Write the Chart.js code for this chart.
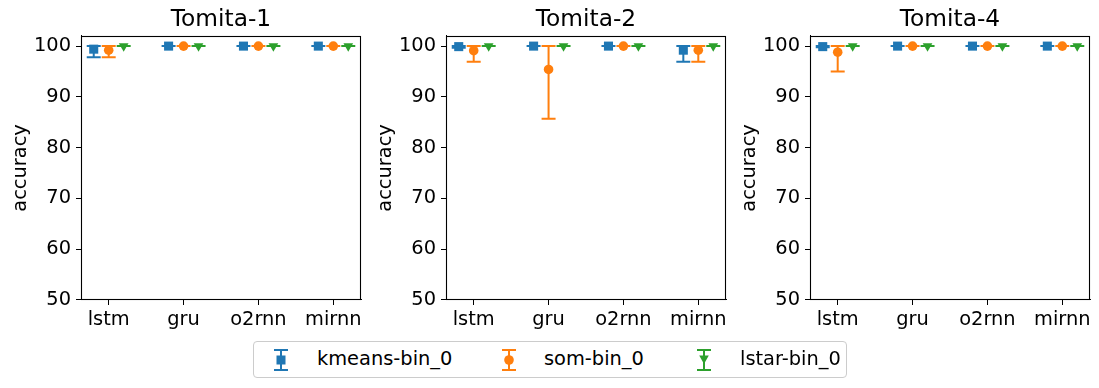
<!DOCTYPE html>
<html>
<head>
<meta charset="utf-8">
<script src="https://cdn.jsdelivr.net/npm/chart.js@4.4.1/dist/chart.umd.min.js"></script>
<style>
  html, body { margin: 0; padding: 0; background: #fff; }
  #wrap { position: relative; width: 1099px; height: 388px; overflow: hidden; font-family: "DejaVu Sans", sans-serif; background: #fff; }
  .panel { position: absolute; top: 0; width: 442px; height: 340px; }
  #legend { position: absolute; left: 253px; top: 341px; width: 592px; height: 35px; border: 1px solid #cccccc; border-radius: 4px; background: #fff; }
  .lg-icon { position: absolute; }
  .lg-text { position: absolute; font-size: 19.4px; line-height: 22px; color: #000; white-space: nowrap; }
</style>
</head>
<body>
<div id="wrap">
  <div class="panel" style="left:0px"><canvas id="c0" width="442" height="340"></canvas></div>
  <div class="panel" style="left:365px"><canvas id="c1" width="442" height="340"></canvas></div>
  <div class="panel" style="left:729px"><canvas id="c2" width="442" height="340"></canvas></div>
  <div id="legend"></div>
</div>
<script>
// ---- data ----
const categories = ['lstm', 'gru', 'o2rnn', 'mirnn'];
const panelTitles = ['Tomita-1', 'Tomita-2', 'Tomita-4'];
const seriesNames = ['kmeans-bin_0', 'som-bin_0', 'lstar-bin_0'];
const seriesColors = ['#1f77b4', '#ff7f0e', '#2ca02c'];
const seriesMarkers = ['rect', 'circle', 'triangle'];
const seriesOffsets = [-0.2, 0, 0.2];
const yTicks = [50, 60, 70, 80, 90, 100];

// Tomita-1
const t1KmeansMean = [99.4, 100, 100, 100];
const t1KmeansLow  = [97.8, 100, 100, 100];
const t1KmeansHigh = [100, 100, 100, 100];
const t1SomMean    = [99.2, 100, 100, 100];
const t1SomLow     = [97.8, 100, 100, 100];
const t1SomHigh    = [100, 100, 100, 100];
const t1LstarMean  = [100, 100, 100, 100];
const t1LstarLow   = [100, 100, 100, 100];
const t1LstarHigh  = [100, 100, 100, 100];

// Tomita-2
const t2KmeansMean = [99.9, 100, 100, 99.2];
const t2KmeansLow  = [99.7, 100, 100, 96.9];
const t2KmeansHigh = [100, 100, 100, 100];
const t2SomMean    = [99.1, 95.4, 100, 99.2];
const t2SomLow     = [96.9, 85.7, 100, 96.9];
const t2SomHigh    = [100, 100, 100, 100];
const t2LstarMean  = [100, 100, 100, 100];
const t2LstarLow   = [100, 100, 100, 100];
const t2LstarHigh  = [100, 100, 100, 100];

// Tomita-4
const t4KmeansMean = [99.9, 100, 100, 100];
const t4KmeansLow  = [99.8, 100, 100, 100];
const t4KmeansHigh = [100, 100, 100, 100];
const t4SomMean    = [98.8, 100, 100, 100];
const t4SomLow     = [95.0, 100, 100, 100];
const t4SomHigh    = [100, 100, 100, 100];
const t4LstarMean  = [100, 100, 100, 100];
const t4LstarLow   = [100, 100, 100, 100];
const t4LstarHigh  = [100, 100, 100, 100];

const panelData = [
  [[t1KmeansMean, t1KmeansLow, t1KmeansHigh], [t1SomMean, t1SomLow, t1SomHigh], [t1LstarMean, t1LstarLow, t1LstarHigh]],
  [[t2KmeansMean, t2KmeansLow, t2KmeansHigh], [t2SomMean, t2SomLow, t2SomHigh], [t2LstarMean, t2LstarLow, t2LstarHigh]],
  [[t4KmeansMean, t4KmeansLow, t4KmeansHigh], [t4SomMean, t4SomLow, t4SomHigh], [t4LstarMean, t4LstarLow, t4LstarHigh]]
];

// ---- plugins ----
const errorBarPlugin = {
  id: 'errorBars',
  beforeDatasetsDraw(chart) {
    const ctx = chart.ctx;
    const xs = chart.scales.x, ys = chart.scales.y;
    const area = chart.chartArea;
    ctx.save();
    ctx.beginPath();
    ctx.rect(area.left, area.top, area.right - area.left, area.bottom - area.top);
    ctx.clip();
    const cap = 7;
    chart.data.datasets.forEach(ds => {
      ctx.strokeStyle = ds.borderColor;
      ctx.lineWidth = 2;
      ds.data.forEach(p => {
        const px = xs.getPixelForValue(p.x);
        const pl = ys.getPixelForValue(p.lo);
        const ph = ys.getPixelForValue(p.hi);
        ctx.beginPath();
        ctx.moveTo(px, pl); ctx.lineTo(px, ph);
        ctx.moveTo(px - cap, pl); ctx.lineTo(px + cap, pl);
        ctx.moveTo(px - cap, ph); ctx.lineTo(px + cap, ph);
        ctx.stroke();
      });
    });
    ctx.restore();
  }
};

const framePlugin = {
  id: 'frame',
  afterDraw(chart) {
    const a = chart.chartArea, ctx = chart.ctx;
    ctx.save();
    ctx.strokeStyle = '#000';
    ctx.lineWidth = 1.1;
    ctx.strokeRect(Math.round(a.left) + 0.5, Math.round(a.top) + 0.5, Math.round(a.right - a.left) - 1, Math.round(a.bottom - a.top) - 1);
    ctx.restore();
  }
};

const FONT = '"DejaVu Sans", sans-serif';
const TICK_SIZE = 19.4;
const TITLE_SIZE = 23.3;

function buildChart(canvasId, title, data) {
  const datasets = data.map((s, si) => ({
    label: seriesNames[si],
    data: categories.map((c, ci) => ({ x: ci + seriesOffsets[si], y: s[0][ci], lo: s[1][ci], hi: s[2][ci] })),
    borderColor: seriesColors[si],
    backgroundColor: seriesColors[si],
    pointStyle: seriesMarkers[si],
    pointRotation: si === 2 ? 180 : 0,
    pointRadius: si === 0 ? 6.4 : (si === 1 ? 4.8 : 5.6),
    pointBorderWidth: 0,
    showLine: false,
    xAxisID: 'x',
    yAxisID: 'y',
    order: 3 - si
  }));
  return new Chart(document.getElementById(canvasId), {
    type: 'scatter',
    data: { datasets },
    options: {
      responsive: false,
      animation: false,
      devicePixelRatio: 1,
      layout: { padding: 0 },
      plugins: {
        legend: { display: false },
        tooltip: { enabled: false },
        title: {
          display: true, text: title, color: '#000',
          font: { family: FONT, size: TITLE_SIZE, weight: 'normal' },
          padding: { top: 6, bottom: 2 }
        }
      },
      scales: {
        x: {
          type: 'linear', min: -0.37, max: 3.37,
          afterFit(scale) { scale.height = 40; },
          afterBuildTicks(scale) { scale.ticks = categories.map((c, i) => ({ value: i })); },
          ticks: {
            color: '#000', font: { family: FONT, size: TICK_SIZE }, padding: 3,
            autoSkip: false, maxRotation: 0,
            callback: (v) => categories[Math.round(v)]
          },
          grid: { display: true, drawOnChartArea: false, drawTicks: true, tickLength: 5, color: '#000', lineWidth: 1 },
          border: { display: true, color: '#000', width: 1 }
        },
        y: {
          type: 'linear', position: 'left', min: 50, max: 102,
          afterFit(scale) { scale.width = 81; },
          afterBuildTicks(scale) { scale.ticks = yTicks.map(v => ({ value: v })); },
          ticks: { color: '#000', font: { family: FONT, size: TICK_SIZE }, padding: 5 },
          grid: { display: true, drawOnChartArea: false, drawTicks: true, tickLength: 5, color: '#000', lineWidth: 1 },
          border: { display: true, color: '#000', width: 1 },
          title: { display: true, text: 'accuracy', color: '#000', font: { family: FONT, size: TICK_SIZE }, padding: { top: 9, bottom: 0 } }
        },
        yRightSpacer: {
          type: 'linear', position: 'right', min: 50, max: 102,
          afterFit(scale) { scale.width = 81; },
          ticks: { display: false },
          grid: { display: false, drawTicks: false },
          border: { display: false },
          title: { display: false }
        }
      }
    },
    plugins: [errorBarPlugin, framePlugin]
  });
}

panelTitles.forEach((t, i) => buildChart('c' + i, t, panelData[i]));

// ---- legend (HTML text + SVG icons) ----
const legendIconX = [27, 255, 450];
const legendTextX = [63, 290, 486];
const legend = document.getElementById('legend');
const svgNS = 'http://www.w3.org/2000/svg';
seriesNames.forEach((name, i) => {
  const svg = document.createElementNS(svgNS, 'svg');
  svg.setAttribute('width', '18'); svg.setAttribute('height', '24');
  svg.setAttribute('class', 'lg-icon');
  svg.style.left = (legendIconX[i] - 9) + 'px';
  svg.style.top = '6px';
  const col = seriesColors[i];
  const path = document.createElementNS(svgNS, 'path');
  path.setAttribute('d', 'M9 2 L9 22 M2 2 L16 2 M2 22 L16 22');
  path.setAttribute('stroke', col); path.setAttribute('stroke-width', '2'); path.setAttribute('fill', 'none');
  svg.appendChild(path);
  let m;
  if (seriesMarkers[i] === 'rect') {
    m = document.createElementNS(svgNS, 'rect');
    m.setAttribute('x', '4.5'); m.setAttribute('y', '7.5'); m.setAttribute('width', '9'); m.setAttribute('height', '9');
  } else if (seriesMarkers[i] === 'circle') {
    m = document.createElementNS(svgNS, 'circle');
    m.setAttribute('cx', '9'); m.setAttribute('cy', '12'); m.setAttribute('r', '4.8');
  } else {
    m = document.createElementNS(svgNS, 'path');
    m.setAttribute('d', 'M4.2 7.5 L13.8 7.5 L9 16 Z');
  }
  m.setAttribute('fill', col);
  svg.appendChild(m);
  legend.appendChild(svg);
  const sp = document.createElement('span');
  sp.className = 'lg-text';
  sp.style.left = legendTextX[i] + 'px';
  sp.style.top = '6px';
  sp.textContent = name;
  legend.appendChild(sp);
});
</script>
</body>
</html>
